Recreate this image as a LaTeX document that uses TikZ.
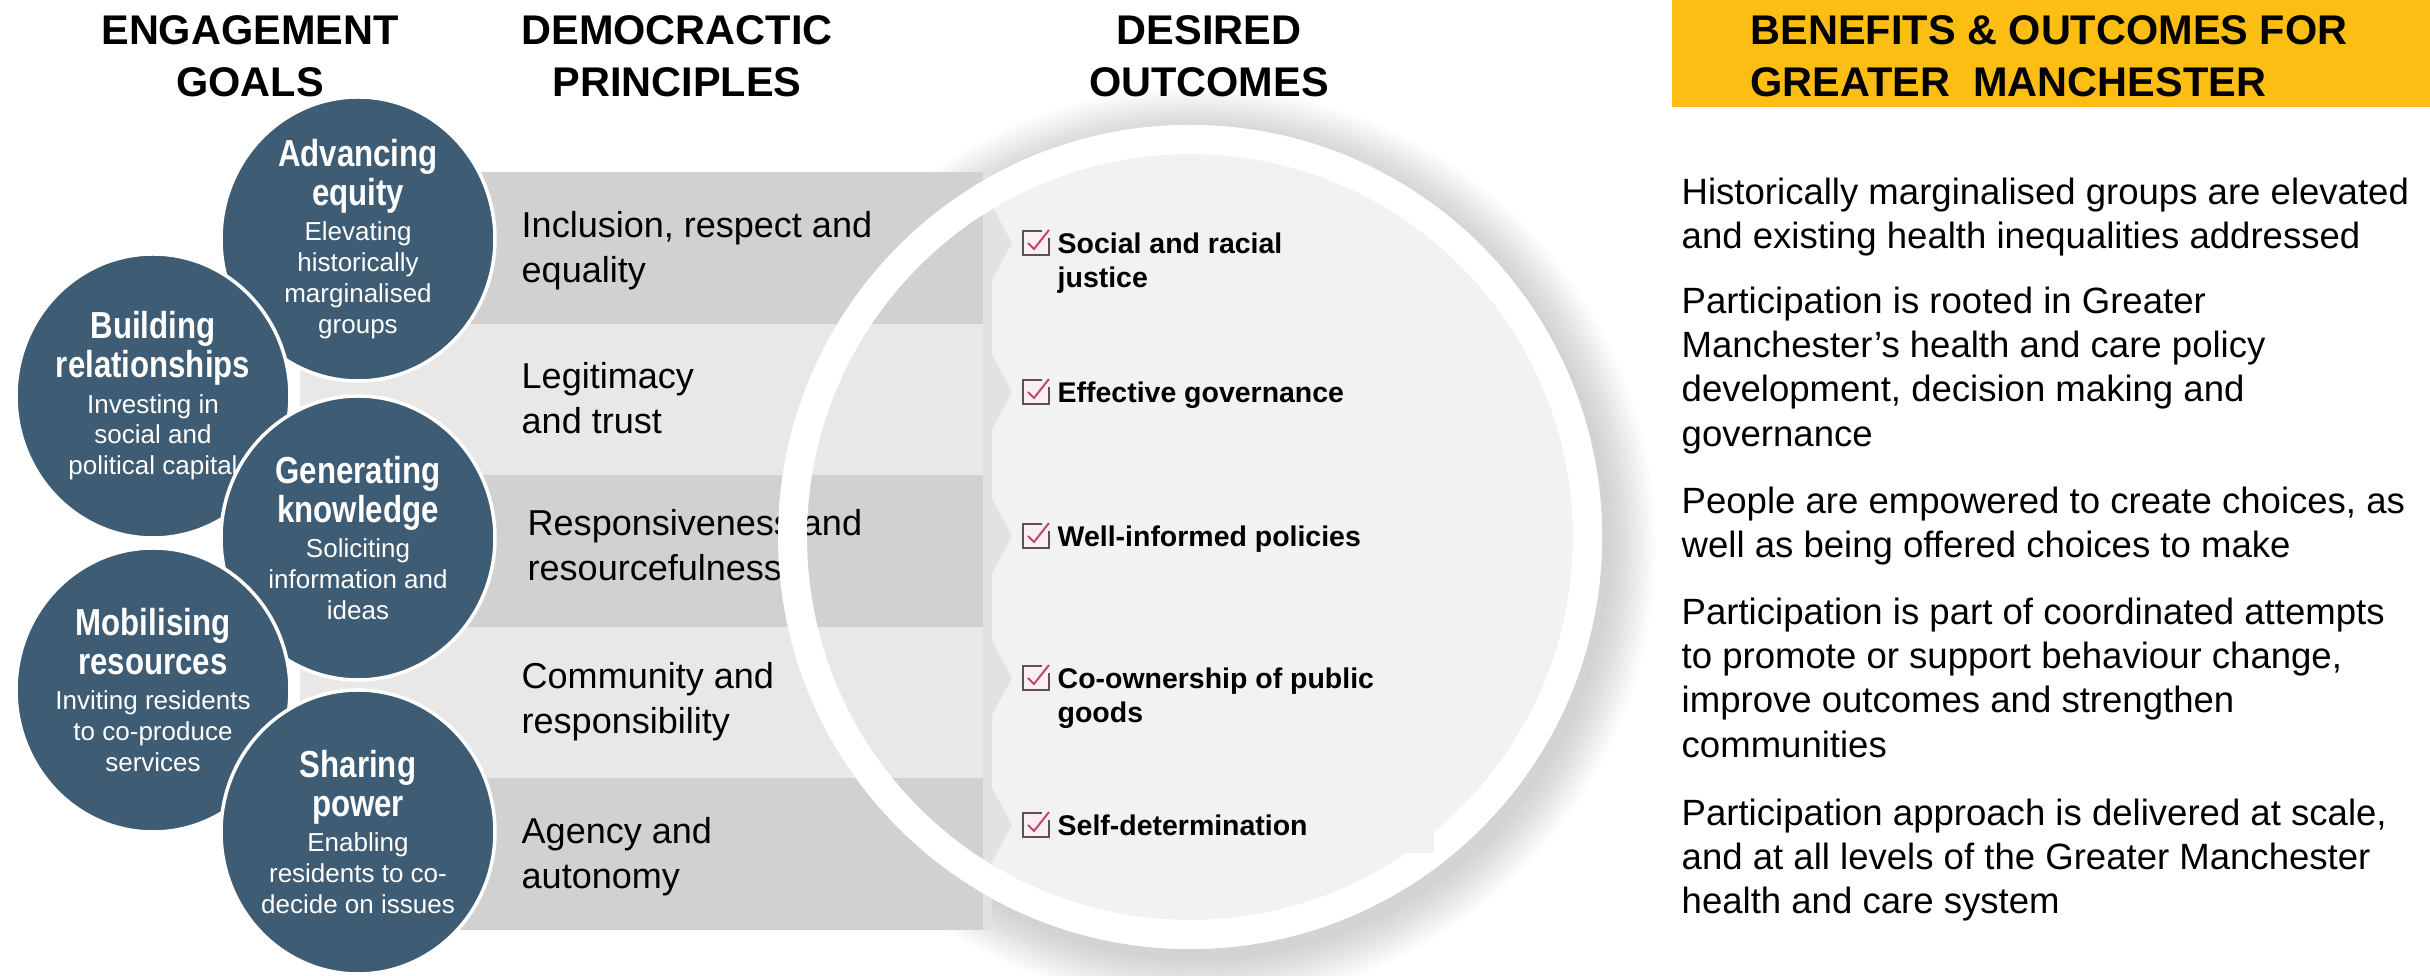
\documentclass[tikz,border=0pt]{standalone}
\usepackage{fontspec}
\setmainfont{Liberation Sans}
\newfontfamily\narrowsans[FakeStretch=0.83]{Liberation Sans}
\usetikzlibrary{shapes.geometric}
\definecolor{goalblue}{RGB}{62,92,115}
\definecolor{banddark}{RGB}{208,209,208}
\definecolor{bandlight}{RGB}{232,232,232}
\definecolor{chevgray}{RGB}{226,226,226}
\definecolor{panelgray}{RGB}{242,242,242}
\definecolor{benefitgold}{RGB}{253,190,20}
\definecolor{boxline}{RGB}{90,80,86}
\definecolor{tickred}{RGB}{192,70,105}

\newcommand\hdrfont{\bfseries\fontsize{11.8}{14.8}\selectfont}
\newcommand\goalttl{\narrowsans\bfseries\fontsize{10.7}{11}\selectfont}
\newcommand\goalsml{\fontsize{7.4}{8.8}\selectfont\lineskiplimit=-20pt\relax}
\newcommand\princfont{\fontsize{10.25}{12.8}\selectfont}
\newcommand\outcfont{\bfseries\fontsize{8.1}{9.7}\selectfont}
\newcommand\benfont{\fontsize{10.4}{12.6}\selectfont}
\newcommand\goalhead[2]{{\goalttl #1}\\[2.3pt]{\goalttl #2}\\[1.2pt]}

\begin{document}
\begin{tikzpicture}[x=0.1mm, y=-0.1mm,
    goal/.style={ellipse, fill=goalblue, draw=white, line width=0.35mm,
      minimum width=27.4mm, minimum height=28.4mm, inner sep=-5mm,
      text=white, align=center, font=\goalsml},
    header/.style={anchor=north, inner sep=0, align=center, font=\hdrfont},
    principle/.style={anchor=north west, inner sep=0, align=left, font=\princfont},
    outcome/.style={anchor=north west, inner sep=0, align=left, font=\outcfont},
    benefit/.style={anchor=north west, inner sep=0, align=left, font=\benfont},
    checkbox/.pic={
      \fill[white!92!tickred] (0,0) rectangle (26,24);
      \draw[boxline, line width=0.2mm] (19,0) -- (0,0) -- (0,24) -- (26,24) -- (26,7);
      \draw[tickred, line width=0.2mm] (5,12) -- (11,18) -- (26,-1);
    }]
    \useasboundingbox (0,0) rectangle (2430,976);

    % Outcome disc with soft shadow
    \coordinate (hub) at (1190,537);
    \foreach \i in {1,...,12}
        \fill[black, opacity=0.015] ([shift={(7,9)}]hub) circle (410+4*\i);
    \fill[white] (hub) circle (412);
    \fill[panelgray] (hub) circle (383);

    % Principle bands
    \foreach \i/\bandcol/\yc in {0/banddark/243, 1/bandlight/392, 2/banddark/536, 3/bandlight/678, 4/banddark/825}{
        \pgfmathsetmacro\ytop{172+151.6*\i}
        \pgfmathsetmacro\ybot{172+151.6*(\i+1)}
        \fill[\bandcol] (300,\ytop) rectangle (983,\ybot);
        \fill[chevgray] (983,\ytop) -- (992,\ytop) -- (992,\yc-37) -- (1012,\yc)
            -- (992,\yc+37) -- (992,\ybot) -- (983,\ybot) -- cycle;
    }

    % Principle texts
    \node[principle] (p1) at (521,211) {Inclusion, respect and\\equality};
    \node[principle] (p2) at (521,362) {Legitimacy\\and trust};
    \node[principle] (p3) at (527,509) {Responsiveness and\\resourcefulness};
    \node[principle] (p4) at (521,662) {Community and\\responsibility};
    \node[principle] (p5) at (521,817) {Agency and\\autonomy};

    % White ring over the bands
    \draw[white, line width=2.9mm] (hub) circle (397.5);

    % Desired outcomes
    \node[outcome] (o1) at (1057,232) {Social and racial\\justice};
    \node[outcome] (o2) at (1057,381) {Effective governance};
    \node[outcome] (o3) at (1057,525) {Well-informed policies};
    \node[outcome] (o4) at (1057,667) {Co-ownership of public\\goods};
    \node[outcome, fill=panelgray, text width=37.6mm, text depth=1.8mm] (o5) at (1057,814) {Self-determination};
    \foreach \n in {o1,o2,o3,o4,o5}
        \pic at ([shift={(-34,-1)}]\n.north west) {checkbox};

    % Engagement goals
    \node[goal] (equity) at (358,239) {\goalhead{Advancing}{equity}Elevating\\historically\\marginalised\\groups};
    \node[goal] (relations) at (153,396) {\goalhead{Building}{relationships}Investing in\\social and\\political capital};
    \node[goal] (knowledge) at (358,538) {\goalhead{Generating}{knowledge}Soliciting\\information and\\ideas};
    \node[goal] (resources) at (153,690) {\goalhead{Mobilising}{resources}Inviting residents\\to co-produce\\services};
    \node[goal] (power) at (358,832) {\goalhead{Sharing}{power}Enabling\\residents to co-\\decide on issues};

    % Column headers
    \node[header] (goalshead) at (250,15) {ENGAGEMENT\\GOALS};
    \node[header] (princhead) at (677,15) {DEMOCRACTIC\\PRINCIPLES};
    \node[header] (outhead) at (1209,15) {DESIRED\\OUTCOMES};

    % Benefits panel
    \fill[benefitgold] (1672,0) rectangle (2430,107);
    \node[header, anchor=north west, align=left] (benhead) at (1750,15) {BENEFITS \& OUTCOMES FOR\\GREATER\ \ MANCHESTER};
    \node[benefit] (b1) at (1681,177) {Historically marginalised groups are elevated\\and existing health inequalities addressed};
    \node[benefit] (b2) at (1681,286) {Participation is rooted in Greater\\Manchester’s health and care policy\\development, decision making and\\governance};
    \node[benefit] (b3) at (1681,486) {People are empowered to create choices, as\\well as being offered choices to make};
    \node[benefit] (b4) at (1681,597) {Participation is part of coordinated attempts\\to promote or support behaviour change,\\improve outcomes and strengthen\\communities};
    \node[benefit] (b5) at (1681,798) {Participation approach is delivered at scale,\\and at all levels of the Greater Manchester\\health and care system};
\end{tikzpicture}
\end{document}
